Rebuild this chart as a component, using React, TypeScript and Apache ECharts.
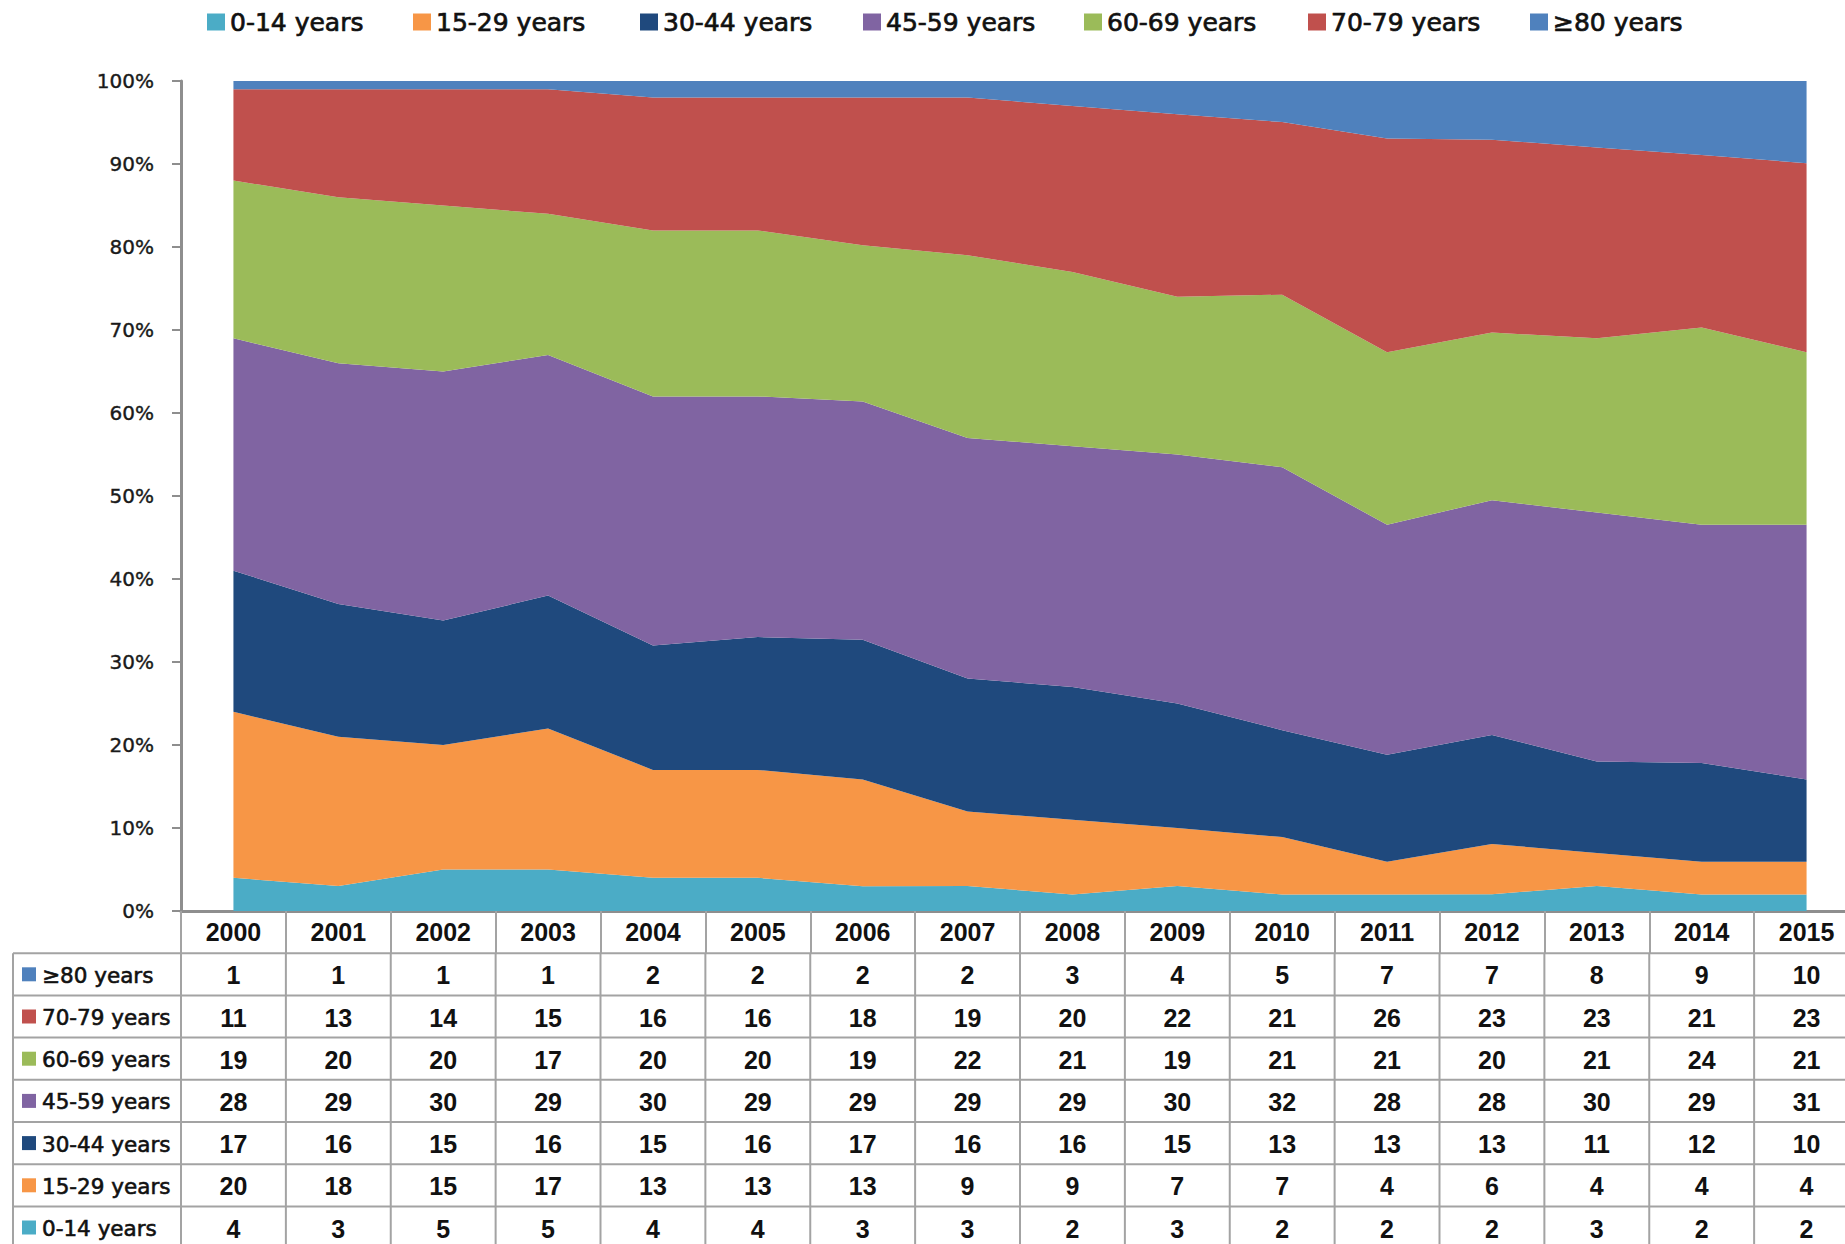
import React, { useEffect, useRef } from "react";
import * as echarts from "echarts";

const years = ["2000","2001","2002","2003","2004","2005","2006","2007","2008","2009","2010","2011","2012","2013","2014","2015"];
const ageGroups = ["0-14 years","15-29 years","30-44 years","45-59 years","60-69 years","70-79 years","≥80 years"];
const v0_14 = [4,3,5,5,4,4,3,3,2,3,2,2,2,3,2,2];
const v15_29 = [20,18,15,17,13,13,13,9,9,7,7,4,6,4,4,4];
const v30_44 = [17,16,15,16,15,16,17,16,16,15,13,13,13,11,12,10];
const v45_59 = [28,29,30,29,30,29,29,29,29,30,32,28,28,30,29,31];
const v60_69 = [19,20,20,17,20,20,19,22,21,19,21,21,20,21,24,21];
const v70_79 = [11,13,14,15,16,16,18,19,20,22,21,26,23,23,21,23];
const v80 = [1,1,1,1,2,2,2,2,3,4,5,7,7,8,9,10];
const yTicks = [0,10,20,30,40,50,60,70,80,90,100];

const groupValues = [v0_14, v15_29, v30_44, v45_59, v60_69, v70_79, v80];
const colors = ["#4BACC6","#F79646","#1F497D","#8064A2","#9BBB59","#C0504D","#4F81BD"];
const legendLefts = [202, 408, 635, 858, 1079, 1303, 1525];

const W = 1845, H = 1244;
const CHART_W = 1920;
const ROW_H = 42.2;
const TABLE_LEFT = 13;
const LINE_COLOR = "#a3a3a3";
const AXIS_COLOR = "#8e8e8e";
const LABEL_FONT = "DejaVu Sans";
const NUM_FONT = "Liberation Sans";
const TEXT_COLOR = "#111";

export default function App() {
  const ref = useRef<HTMLDivElement>(null);
  useEffect(() => {
    const chart = echarts.init(ref.current!, null, { renderer: "svg" });
    const totals = years.map((_, i) => groupValues.reduce((s, arr) => s + arr[i], 0));
    const series = ageGroups.map((name, gi) => ({
      name,
      type: "line",
      stack: "total",
      symbol: "none",
      lineStyle: { width: 0 },
      areaStyle: { color: colors[gi], opacity: 1 },
      itemStyle: { color: colors[gi] },
      data: groupValues[gi].map((v, i) => (v / totals[i]) * 100),
    }));
    const legends = ageGroups.map((name, gi) => ({
      data: [name],
      left: legendLefts[gi],
      top: 2,
      icon: "rect",
      itemWidth: 18,
      itemHeight: 17,
      selectedMode: false,
      textStyle: {
        fontFamily: LABEL_FONT, fontSize: 25, color: TEXT_COLOR, lineHeight: 30,
        textBorderColor: TEXT_COLOR, textBorderWidth: 0.7,
      },
    }));
    chart.setOption({
      animation: false,
      backgroundColor: "#fff",
      legend: legends,
      grid: { left: 181, top: 81, width: 1678, height: 830, containLabel: false },
      xAxis: {
        type: "category",
        data: years,
        boundaryGap: true,
        axisLine: { show: true, lineStyle: { color: AXIS_COLOR, width: 3 } },
        axisTick: { show: true, interval: 0, length: 42, lineStyle: { color: LINE_COLOR, width: 2 } },
        axisLabel: {
          show: true, interval: 0, margin: 21, verticalAlign: "middle",
          fontFamily: NUM_FONT, fontWeight: "bold", fontSize: 25, color: TEXT_COLOR,
        },
        splitLine: { show: false },
      },
      yAxis: {
        type: "value",
        min: 0, max: 100, interval: 10,
        axisLine: { show: true, lineStyle: { color: AXIS_COLOR, width: 3 } },
        axisTick: { show: true, length: 9, lineStyle: { color: AXIS_COLOR, width: 2 } },
        axisLabel: {
          formatter: (v: number) => (yTicks.includes(v) ? v + "%" : ""),
          margin: 27, fontFamily: LABEL_FONT, fontSize: 20, color: "#1a1a1a",
          textBorderColor: "#1a1a1a", textBorderWidth: 0.4,
        },
        splitLine: { show: false },
      },
      series,
    });

    const xs = years.map((_, i) => chart.convertToPixel({ xAxisIndex: 0 }, i) as number);
    const band = xs[1] - xs[0];
    const axisY = chart.convertToPixel({ yAxisIndex: 0 }, 0) as number;
    const tableTop = axisY + ROW_H;
    const rowsOrder = [6, 5, 4, 3, 2, 1, 0];
    const g: any[] = [];
    for (let r = 0; r <= rowsOrder.length; r++) {
      const y = tableTop + r * ROW_H;
      g.push({ type: "line", silent: true, shape: { x1: TABLE_LEFT, y1: y, x2: CHART_W, y2: y }, style: { stroke: LINE_COLOR, lineWidth: 2 } });
    }
    const bottom = tableTop + rowsOrder.length * ROW_H + 5;
    g.push({ type: "line", silent: true, shape: { x1: TABLE_LEFT, y1: tableTop, x2: TABLE_LEFT, y2: bottom }, style: { stroke: LINE_COLOR, lineWidth: 2 } });
    for (let i = 0; i <= years.length; i++) {
      const x = xs[0] - band / 2 + i * band;
      g.push({ type: "line", silent: true, shape: { x1: x, y1: tableTop, x2: x, y2: bottom }, style: { stroke: LINE_COLOR, lineWidth: 2 } });
    }
    rowsOrder.forEach((gi, r) => {
      const cy = tableTop + r * ROW_H + ROW_H / 2;
      g.push({ type: "rect", silent: true, shape: { x: 22, y: cy - 7, width: 14, height: 14 }, style: { fill: colors[gi] } });
      g.push({ type: "text", silent: true, style: { text: ageGroups[gi], x: 42, y: cy + 1, align: "left", verticalAlign: "middle", fontFamily: LABEL_FONT, fontSize: 21.5, fill: TEXT_COLOR, stroke: TEXT_COLOR, lineWidth: 0.6 } });
      years.forEach((_, i) => {
        g.push({ type: "text", silent: true, style: { text: String(groupValues[gi][i]), x: xs[i], y: cy + 1, align: "center", verticalAlign: "middle", fontFamily: NUM_FONT, fontWeight: "bold", fontSize: 25, fill: TEXT_COLOR } });
      });
    });
    chart.setOption({ graphic: g });
    return () => chart.dispose();
  }, []);
  return (
    <div style={{ position: "fixed", left: 0, top: 0, width: W, height: H, overflow: "hidden", background: "#fff" }}>
      <div ref={ref} style={{ width: CHART_W, height: H }} />
    </div>
  );
}
